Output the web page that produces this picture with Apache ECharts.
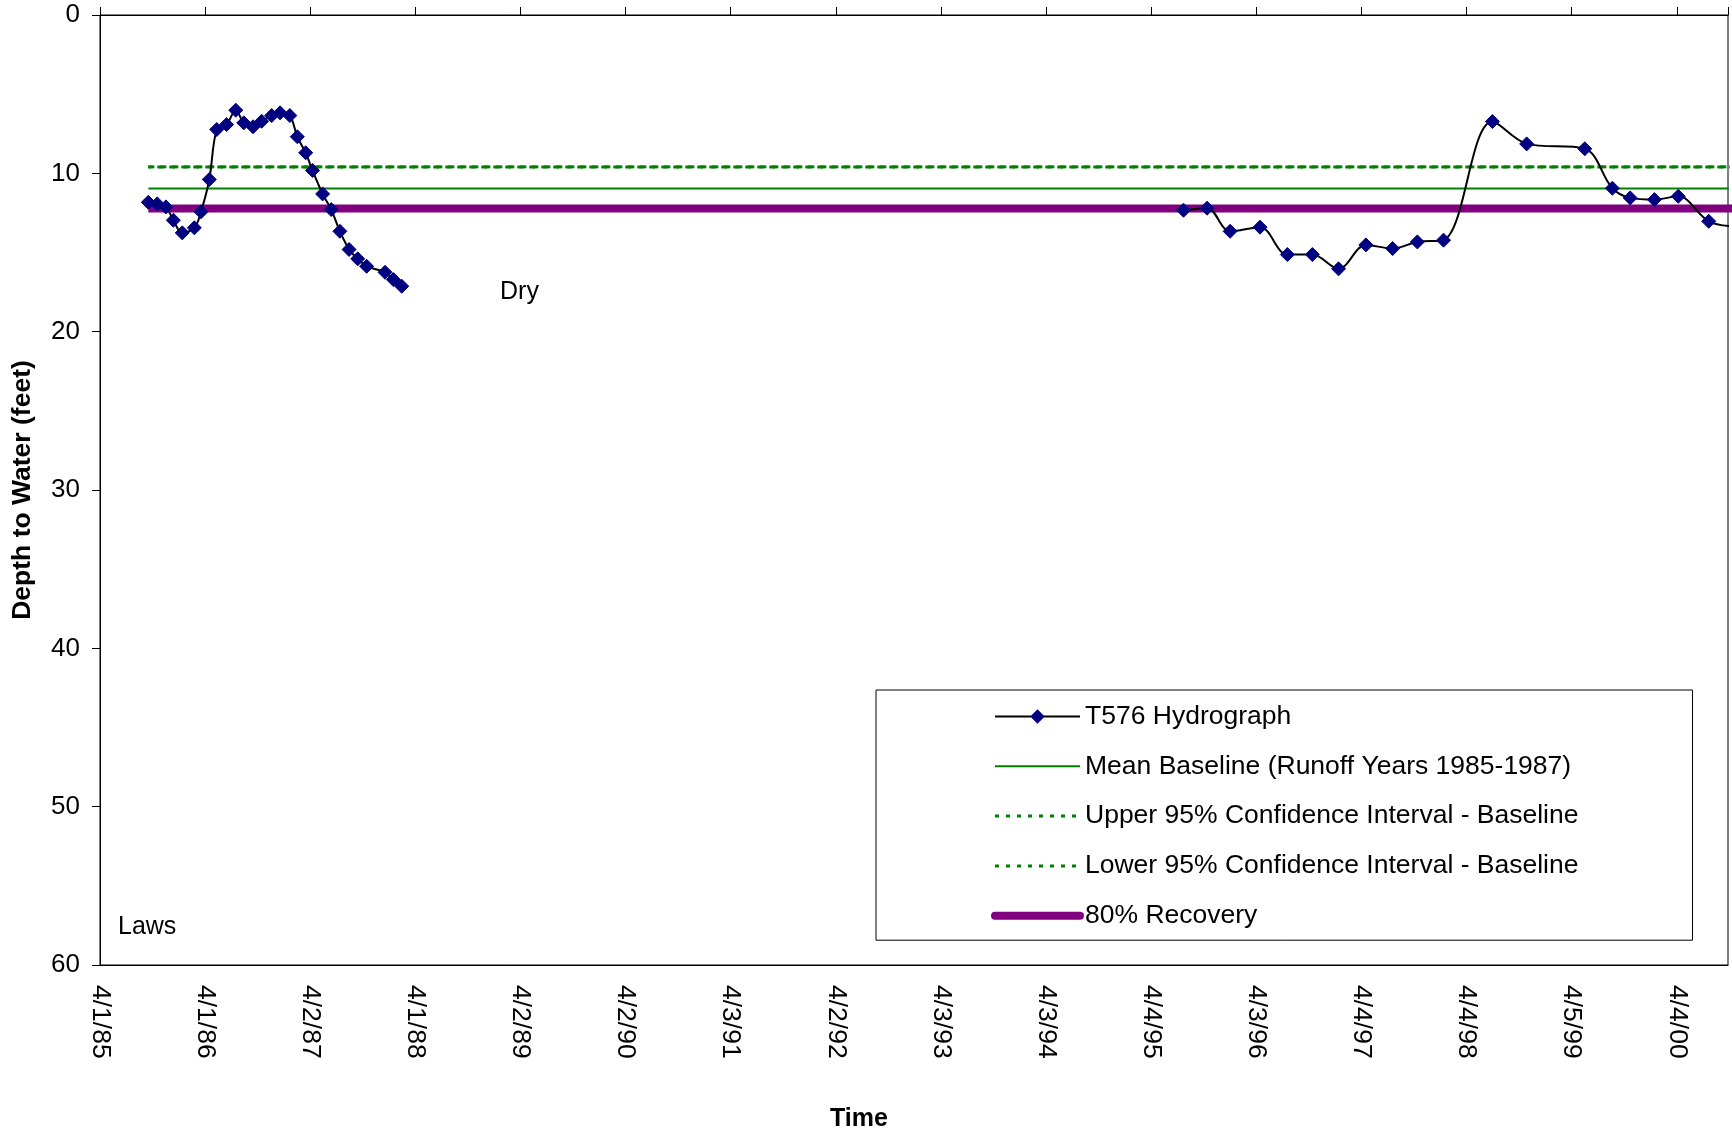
<!DOCTYPE html>
<html>
<head>
<meta charset="utf-8">
<script src="https://cdn.jsdelivr.net/npm/echarts@6/dist/echarts.min.js"></script>
<style>
html,body{margin:0;padding:0;background:#fff;}
#chart{width:1732px;height:1134px;}
</style>
</head>
<body>
<div id="chart"></div>
<script>
// ---- data ----
const tickLabels = ['4/1/85','4/1/86','4/2/87','4/1/88','4/2/89','4/2/90','4/3/91','4/2/92','4/3/93','4/3/94','4/4/95','4/3/96','4/4/97','4/4/98','4/5/99','4/4/00'];
const X_INTERVAL = 365.47; // days between date-axis labels
const X_MAX = 5660;        // days from 4/1/85 at right edge

const hydroDates = [
  '1985-09-16','1985-10-17','1985-11-16','1985-12-12','1986-01-12','1986-02-23','1986-03-18','1986-04-16',
  '1986-05-12','1986-06-15','1986-07-17','1986-08-14','1986-09-15','1986-10-15','1986-11-19','1986-12-18',
  '1987-01-21','1987-02-16','1987-03-17','1987-04-10','1987-05-15','1987-06-14','1987-07-14','1987-08-15',
  '1987-09-14','1987-10-15','1987-12-18','1988-01-16','1988-02-14',
  '1991-06-01',
  '1995-07-25','1995-10-15','1996-01-03','1996-04-16','1996-07-20','1996-10-15','1997-01-14','1997-04-19',
  '1997-07-21','1997-10-15','1998-01-14','1998-07-03','1998-10-30','1999-05-20','1999-08-24','1999-10-25',
  '2000-01-17','2000-04-09','2000-07-24','2000-10-20'
];
const hydroDepth = [
  11.83,11.93,12.12,12.96,13.76,13.44,12.43,10.39,
  7.23,6.92,6.01,6.81,7.06,6.71,6.35,6.18,
  6.35,7.69,8.70,9.82,11.30,12.29,13.66,14.81,
  15.40,15.87,16.25,16.71,17.13,
  null,
  12.33,12.20,13.66,13.40,15.13,15.13,16.03,14.52,
  14.75,14.33,14.22,6.73,8.14,8.45,10.94,11.55,
  11.66,11.45,13.03,13.35
];
const lineDates = ['1985-09-16','2001-06-01'];
const meanBaseline = [10.96, 10.96];
const upperCI = [9.59, 9.59];
const lowerCI = [9.60, 9.60];
const recovery80 = [12.22, 12.22];

const seriesNames = ['T576 Hydrograph','Mean Baseline (Runoff Years 1985-1987)','Upper 95% Confidence Interval - Baseline','Lower 95% Confidence Interval - Baseline','80% Recovery'];

// ---- helpers ----
const BASE = Date.UTC(1985, 3, 1);
const toDays = s => (Date.parse(s + 'T00:00:00Z') - BASE) / 86400000;
const pairs = (dates, vals) => dates.map((d, i) => [toDays(d), vals[i]]);

const FONT = "'Liberation Sans', Arial, sans-serif";
const chart = echarts.init(document.getElementById('chart'), null, {renderer: 'canvas'});

const option = {
  animation: false,
  backgroundColor: '#ffffff',
  textStyle: {fontFamily: FONT, color: '#000'},
  grid: {left: 100, right: 4, top: 15, bottom: 169, show: true, borderColor: '#000', borderWidth: 1, backgroundColor: 'transparent'},
  xAxis: [
    {
      type: 'value', min: 0, max: X_MAX, interval: X_INTERVAL, position: 'bottom',
      axisLine: {show: true, onZero: false, lineStyle: {color: '#000', width: 1}},
      axisTick: {show: false},
      splitLine: {show: false},
      axisLabel: {
        show: true, rotate: -90, margin: 20, fontSize: 26.5, color: '#000', fontFamily: FONT,
        showMaxLabel: false,
        formatter: v => {
          const i = Math.round(v / X_INTERVAL);
          return Math.abs(v - i * X_INTERVAL) < 1 && tickLabels[i] ? tickLabels[i] : '';
        }
      }
    },
    {
      type: 'value', min: 0, max: X_MAX, interval: X_INTERVAL, position: 'top',
      axisLine: {show: true, onZero: false, lineStyle: {color: '#000', width: 1}},
      axisTick: {show: true, inside: false, length: 8, lineStyle: {color: '#000'}},
      splitLine: {show: false},
      axisLabel: {show: false}
    }
  ],
  yAxis: {
    type: 'value', inverse: true, min: 0, max: 60, interval: 10,
    name: 'Depth to Water (feet)', nameLocation: 'middle', nameGap: 64,
    nameTextStyle: {fontSize: 26.5, fontWeight: 'bold', color: '#000', fontFamily: FONT},
    axisLine: {show: true, onZero: false, lineStyle: {color: '#000', width: 1}},
    axisTick: {show: true, inside: false, length: 8, lineStyle: {color: '#000'}},
    splitLine: {show: false},
    axisLabel: {margin: 20, fontSize: 26, color: '#000', fontFamily: FONT}
  },
  legend: {
    orient: 'vertical', left: 876, top: 690,
    padding: [13, 114, 11, 115],
    itemWidth: 85, itemHeight: 18, itemGap: 22.8,
    backgroundColor: '#fff', borderColor: '#000', borderWidth: 1,
    textStyle: {fontSize: 26.5, color: '#000', fontFamily: FONT},
    data: [
      {name: seriesNames[0]},
      {name: seriesNames[1], itemStyle: {opacity: 0}},
      {name: seriesNames[2], itemStyle: {opacity: 0}, lineStyle: {type: [4, 7], width: 3, dashOffset: 0}},
      {name: seriesNames[3], itemStyle: {opacity: 0}, lineStyle: {type: [4, 7], width: 3, dashOffset: 0}},
      {name: seriesNames[4], itemStyle: {opacity: 0}, lineStyle: {width: 8, cap: 'round'}}
    ]
  },
  series: [
    {
      name: seriesNames[0], type: 'line', xAxisIndex: 0, z: 5,
      data: pairs(hydroDates, hydroDepth),
      smooth: 0.35, connectNulls: false,
      symbol: 'diamond', symbolSize: 14, showAllSymbol: true,
      lineStyle: {color: '#000', width: 2},
      itemStyle: {color: '#000080', borderColor: '#000080'}
    },
    {
      name: seriesNames[1], type: 'line', xAxisIndex: 0, z: 3,
      data: pairs(lineDates, meanBaseline), symbol: 'none',
      lineStyle: {color: '#008000', width: 2}, itemStyle: {color: '#008000'}
    },
    {
      name: seriesNames[2], type: 'line', xAxisIndex: 0, z: 3,
      data: pairs(lineDates, upperCI), symbol: 'none',
      lineStyle: {color: '#008000', width: 3, type: [6, 6]}, itemStyle: {color: '#008000'}
    },
    {
      name: seriesNames[3], type: 'line', xAxisIndex: 0, z: 3,
      data: pairs(lineDates, lowerCI), symbol: 'none',
      lineStyle: {color: '#008000', width: 3, type: [6, 6], dashOffset: 3}, itemStyle: {color: '#008000'}
    },
    {
      name: seriesNames[4], type: 'line', xAxisIndex: 0, z: 2,
      data: pairs(lineDates, recovery80), symbol: 'none',
      lineStyle: {color: '#800080', width: 8}, itemStyle: {color: '#800080'}
    }
  ],
  graphic: [
    {type: 'text', left: 500, top: 280, style: {text: 'Dry', font: '25px ' + FONT, fill: '#000'}},
    {type: 'text', left: 118, top: 915, style: {text: 'Laws', font: '25px ' + FONT, fill: '#000'}},
    {type: 'text', left: 830, top: 1107, style: {text: 'Time', font: 'bold 25px ' + FONT, fill: '#000'}}
  ]
};
chart.setOption(option);
</script>
</body>
</html>
